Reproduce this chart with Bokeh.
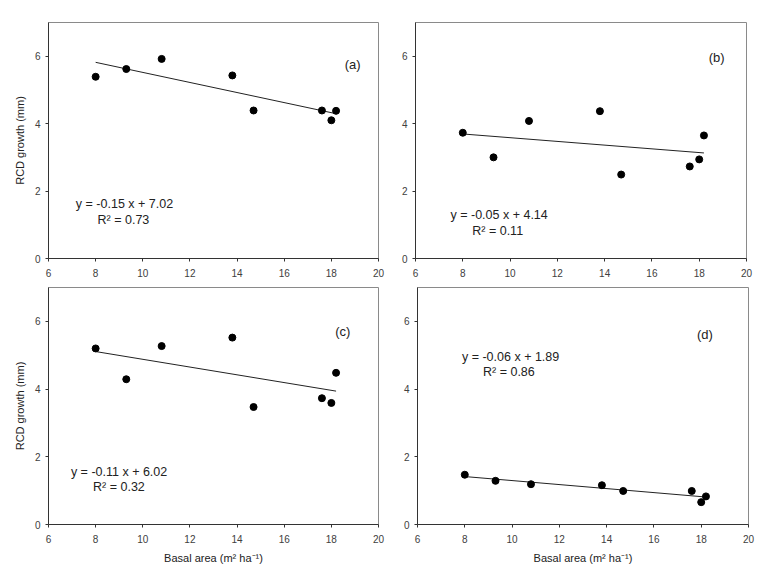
import numpy as np
from bokeh.plotting import figure
from bokeh.layouts import column, row
from bokeh.models import Range1d, Label, FixedTicker
from bokeh.embed import file_html
from bokeh.resources import INLINE

# ---- data ----
basal_area = [8.0, 9.3, 10.8, 13.8, 14.7, 17.6, 18.0, 18.2]
rcd_a = [5.39, 5.62, 5.92, 5.43, 4.39, 4.39, 4.10, 4.38]
rcd_b = [3.73, 3.00, 4.08, 4.37, 2.49, 2.73, 2.94, 3.65]
rcd_c = [5.20, 4.29, 5.27, 5.52, 3.47, 3.73, 3.59, 4.48]
rcd_d = [1.47, 1.29, 1.19, 1.16, 0.99, 0.99, 0.66, 0.83]
panel_tags = ["(a)", "(b)", "(c)", "(d)"]
equations = ["y = -0.15 x + 7.02", "y = -0.05 x + 4.14",
             "y = -0.11 x + 6.02", "y = -0.06 x + 1.89"]
r_squared = ["R\u00b2 = 0.73", "R\u00b2 = 0.11", "R\u00b2 = 0.32", "R\u00b2 = 0.86"]
x_ticks = [6, 8, 10, 12, 14, 16, 18, 20]
y_ticks = [0, 2, 4, 6]
y_label = "RCD growth (mm)"
x_label = "Basal area (m\u00b2 ha\u207b\u00b9)"

FONT = "Liberation Sans"

# layout config: (width, height, border l, r, t, b) and annotation positions (data units)
panel_cfg = [
    dict(w=390, h=281, l=48, r=12, t=19, b=23, eq=(7.16, 1.62), r2=(8.08, 1.15), tag=(18.57, 5.75), ylab=True, xlab=False),
    dict(w=387, h=281, l=25, r=31, t=22, b=20, eq=(7.48, 1.28), r2=(8.40, 0.83), tag=(18.40, 5.95), ylab=False, xlab=False),
    dict(w=390, h=289, l=48, r=12, t=6, b=43, eq=(6.95, 1.56), r2=(7.89, 1.10), tag=(18.16, 5.70), ylab=True, xlab=True),
    dict(w=387, h=289, l=27, r=29, t=3, b=46, eq=(7.88, 4.94), r2=(8.77, 4.49), tag=(17.82, 5.61), ylab=False, xlab=True),
]
series = [rcd_a, rcd_b, rcd_c, rcd_d]


def make_panel(i):
    cfg = panel_cfg[i]
    p = figure(width=cfg["w"], height=cfg["h"], output_backend="svg",
               toolbar_location=None, x_range=Range1d(6, 20), y_range=Range1d(0, 7),
               min_border_left=cfg["l"], min_border_right=cfg["r"],
               min_border_top=cfg["t"], min_border_bottom=cfg["b"])
    p.grid.visible = False
    p.outline_line_color = "#8a8a8a"
    p.outline_line_width = 1
    p.background_fill_color = "white"
    p.border_fill_color = "white"

    for ax, ticks in ((p.xaxis[0], x_ticks), (p.yaxis[0], y_ticks)):
        ax.ticker = FixedTicker(ticks=ticks)
        ax.minor_tick_line_color = None
        ax.major_tick_in = 0
        ax.major_tick_out = 3
        ax.axis_line_color = "#333333"
        ax.major_tick_line_color = "#333333"
        ax.major_label_text_font = FONT
        ax.major_label_text_font_size = "10px"
        ax.major_label_text_color = "#404040"
        ax.axis_label_text_font = FONT
        ax.axis_label_text_font_size = "11px"
        ax.axis_label_text_font_style = "normal"
        ax.axis_label_text_color = "#222222"
    p.xaxis.major_label_standoff = 7
    p.yaxis.major_label_standoff = 5
    if cfg["ylab"]:
        p.yaxis.axis_label = y_label
        p.yaxis.axis_label_standoff = 6
    if cfg["xlab"]:
        p.xaxis.axis_label = x_label
        p.xaxis.axis_label_standoff = 6

    y = series[i]
    slope, intercept = np.polyfit(basal_area, y, 1)
    xs = [min(basal_area), max(basal_area)]
    p.line(xs, [slope * v + intercept for v in xs], line_color="#222222", line_width=1)
    p.scatter(basal_area, y, size=7, fill_color="black", line_color="black")

    for pos, txt, size in ((cfg["eq"], equations[i], "12.5px"),
                           (cfg["r2"], r_squared[i], "12.5px"),
                           (cfg["tag"], panel_tags[i], "13px")):
        p.add_layout(Label(x=pos[0], y=pos[1], text=txt, text_font=FONT,
                           text_font_size=size, text_color="#222222",
                           text_align="left", text_baseline="middle"))
    return p


panels = [make_panel(i) for i in range(4)]
layout = column(row(panels[0], panels[1]), row(panels[2], panels[3]))

open("out.html", "w").write(file_html(layout, INLINE))
